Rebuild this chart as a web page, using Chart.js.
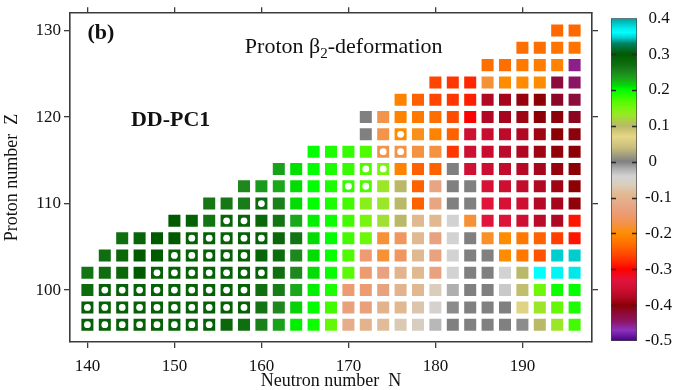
<!DOCTYPE html>
<html>
<head>
<meta charset="utf-8">
<script src="https://cdn.jsdelivr.net/npm/chart.js@4.4.1/dist/chart.umd.min.js"></script>
<style>
  html, body { margin: 0; padding: 0; background: #fff; }
  #wrap { position: relative; width: 673px; height: 390px; }
  #main { position: absolute; left: 0; top: 0; width: 673px; height: 390px; }
  #bar  { position: absolute; left: 600px; top: 0; width: 73px; height: 390px; }
</style>
</head>
<body>
<div id="wrap">
  <canvas id="main" width="673" height="390"></canvas>
  <canvas id="bar" width="73" height="390"></canvas>
</div>
<script>
// Proton quadrupole deformation beta2 of even-even nuclei, DD-PC1.
// One array per proton number Z, starting at the first neutron number of that row, step dN = 2.
const z130 = [-0.235, -0.235];
const z128 = [-0.23, -0.23, -0.225, -0.225];
const z126 = [-0.23, -0.23, -0.22, -0.215, -0.21, -0.455];
const z124 = [-0.26, -0.27, -0.28, -0.18, -0.2, -0.2, -0.2, -0.425, -0.445];
const z122 = [-0.21, -0.24, -0.26, -0.27, -0.285, -0.378, -0.385, -0.395, -0.4, -0.415, -0.425];
const z120 = [0.0, -0.17, -0.21, -0.22, -0.23, -0.255, -0.3, -0.378, -0.385, -0.39, -0.4, -0.402, -0.412];
const z118 = [0.0, -0.17, -0.2, -0.19, -0.21, -0.24, -0.355, -0.36, -0.37, -0.38, -0.39, -0.4, -0.402];
const z116 = [0.2, 0.19, 0.18, 0.17, -0.17, -0.17, -0.175, -0.175, -0.27, -0.355, -0.36, -0.37, -0.38, -0.39, -0.397, -0.4];
const z114 = [0.235, 0.21, 0.2, 0.19, 0.18, 0.17, 0.15, -0.21, -0.24, -0.24, 0.0, -0.352, -0.356, -0.365, -0.375, -0.385, -0.395, -0.4];
const z112 = [0.25, 0.24, 0.232, 0.212, 0.2, 0.19, 0.18, 0.17, 0.13, 0.1, -0.24, -0.125, 0.0, 0.0, -0.345, -0.355, -0.365, -0.378, -0.39, -0.4];
const z110 = [0.262, 0.262, 0.258, 0.275, 0.255, 0.212, 0.2, 0.19, 0.175, 0.14, 0.13, 0.1, -0.24, -0.125, 0.0, 0.0, -0.33, -0.345, -0.355, -0.375, -0.385, -0.397];
const z108 = [0.3, 0.29, 0.265, 0.285, 0.285, 0.28, 0.265, 0.232, 0.205, 0.195, 0.175, 0.15, 0.125, 0.1, -0.09, -0.09, -0.04, -0.18, -0.33, -0.335, -0.355, -0.37, -0.38, -0.29];
const z106 = [0.27, 0.285, 0.3, 0.3, 0.29, 0.29, 0.29, 0.29, 0.29, 0.28, 0.265, 0.212, 0.2, 0.175, 0.155, -0.18, -0.16, -0.09, -0.13, -0.04, 0.0, -0.185, -0.2, -0.22, -0.24, -0.265, -0.29];
const z104 = [0.27, 0.28, 0.3, 0.3, 0.29, 0.29, 0.29, 0.29, 0.29, 0.285, 0.275, 0.25, 0.212, 0.198, 0.17, -0.145, -0.18, -0.16, -0.09, -0.13, -0.04, 0.0, 0.0, -0.2, -0.22, -0.25, 0.345, 0.345];
const z102 = [0.265, 0.27, 0.28, 0.3, 0.29, 0.29, 0.29, 0.29, 0.29, 0.29, 0.29, 0.27, 0.25, 0.212, 0.198, 0.165, -0.145, -0.13, -0.1, -0.09, -0.13, -0.04, 0.0, 0.0, -0.04, 0.1, 0.36, 0.357, 0.353];
const z100 = [0.275, 0.29, 0.29, 0.29, 0.29, 0.29, 0.29, 0.29, 0.29, 0.29, 0.27, 0.26, 0.232, 0.205, 0.19, -0.145, -0.145, -0.13, -0.1, -0.09, -0.065, -0.02, 0.0, 0.0, -0.035, 0.095, 0.155, 0.195, 0.2];
const z98  = [0.29, 0.29, 0.29, 0.29, 0.29, 0.29, 0.29, 0.29, 0.29, 0.29, 0.265, 0.25, 0.215, 0.2, 0.175, -0.135, -0.135, -0.1, -0.09, -0.075, -0.045, -0.005, 0.0, 0.0, 0.0, 0.065, 0.13, 0.16, 0.19];
const z96  = [0.29, 0.29, 0.29, 0.29, 0.29, 0.29, 0.29, 0.29, 0.28, 0.27, 0.255, 0.235, 0.205, 0.195, 0.16, -0.11, -0.1, -0.085, -0.07, -0.06, -0.025, 0.0, 0.0, 0.0, 0.0, -0.005, 0.1, 0.13, 0.175];

const protonNumbers = [130, 128, 126, 124, 122, 120, 118, 116, 114, 112, 110, 108, 106, 104, 102, 100, 98, 96];
const firstNeutron  = [194, 190, 186, 180, 176, 172, 172, 166, 162, 158, 154, 150, 144, 142, 140, 140, 140, 140];
const beta2Rows     = [z130, z128, z126, z124, z122, z120, z118, z116, z114, z112, z110, z108, z106, z104, z102, z100, z98, z96];

// Nuclei flagged with a white dot: [Z, first N, last N]
const markedRanges = [
  [96, 140, 154], [98, 140, 158], [100, 142, 158], [102, 148, 160],
  [104, 150, 158], [106, 152, 160], [108, 156, 158], [110, 160, 160],
  [112, 170, 172], [114, 172, 174], [116, 174, 176], [118, 176, 176]
];

const xTicks = [140, 150, 160, 170, 180, 190];
const yTicks = [100, 110, 120, 130];
const barTicks = [-0.5, -0.4, -0.3, -0.2, -0.1, 0, 0.1, 0.2, 0.3, 0.4];

// Colour scale for beta2
const cmapValues = [-0.5, -0.47, -0.445, -0.42, -0.4, -0.38, -0.355, -0.33, -0.3, -0.285, -0.26, -0.23, -0.2, -0.18, -0.16, -0.13, -0.09, -0.065, -0.04, -0.02, 0.0, 0.04, 0.07, 0.1, 0.13, 0.15, 0.17, 0.2, 0.21, 0.23, 0.25, 0.27, 0.3, 0.33, 0.345, 0.36, 0.37, 0.4];
const cmapColors = [
  [70,0,130], [140,50,190], [140,20,100], [140,10,50], [140,0,5], [175,8,35], [205,15,50], [225,20,60],
  [255,0,0], [255,30,0], [255,70,0], [255,110,0], [255,140,0], [245,145,55], [240,150,95], [232,162,128],
  [225,185,145], [218,205,188], [210,210,210], [175,175,175], [128,128,128], [200,190,125], [230,215,135],
  [185,185,105], [155,230,40], [120,245,15], [80,250,0], [0,255,0], [0,225,0], [25,170,25], [30,135,30],
  [15,110,15], [0,90,0], [0,130,100], [0,205,205], [0,255,255], [0,240,240], [0,160,160]
];

function colorFor(v) {
  const n = cmapValues.length;
  if (v <= cmapValues[0]) return rgb(cmapColors[0]);
  if (v >= cmapValues[n - 1]) return rgb(cmapColors[n - 1]);
  for (let i = 0; i < n - 1; i++) {
    const a = cmapValues[i], b = cmapValues[i + 1];
    if (v >= a && v <= b) {
      const t = (v - a) / (b - a);
      const c0 = cmapColors[i], c1 = cmapColors[i + 1];
      return rgb([0, 1, 2].map(k => Math.round(c0[k] + (c1[k] - c0[k]) * t)));
    }
  }
  return rgb(cmapColors[n - 1]);
}
function rgb(c) { return 'rgb(' + c[0] + ',' + c[1] + ',' + c[2] + ')'; }

const cells = [];
beta2Rows.forEach((row, i) => {
  row.forEach((b, j) => cells.push({ x: firstNeutron[i] + 2 * j, y: protonNumbers[i], b: b }));
});
const marked = [];
markedRanges.forEach(([z, n0, n1]) => {
  for (let n = n0; n <= n1; n += 2) marked.push({ x: n, y: z });
});

const SERIF = "'Liberation Serif', 'Times New Roman', Times, serif";
const INK = '#111';
const FRAME = '#3c3c3c';

Chart.defaults.font.family = SERIF;
Chart.defaults.color = INK;

// Text annotations placed in data coordinates
const labelsPlugin = {
  id: 'panelLabels',
  afterDatasetsDraw(chart) {
    const { ctx, scales: { x, y } } = chart;
    ctx.save();
    ctx.fillStyle = INK;
    ctx.textBaseline = 'alphabetic';
    ctx.textAlign = 'left';

    ctx.font = 'bold 22px ' + SERIF;
    ctx.fillText('(b)', x.getPixelForValue(140), y.getPixelForValue(129));
    ctx.fillText('DD-PC1', x.getPixelForValue(145), y.getPixelForValue(119));

    let px = x.getPixelForValue(158.1);
    const py = y.getPixelForValue(127.4);
    ctx.font = '22px ' + SERIF;
    ctx.fillText('Proton \u03b2', px, py);
    px += ctx.measureText('Proton \u03b2').width;
    ctx.font = '15px ' + SERIF;
    ctx.fillText('2', px, py + 5);
    px += ctx.measureText('2').width;
    ctx.font = '22px ' + SERIF;
    ctx.fillText('-deformation', px, py);
    ctx.restore();
  }
};

const gridStyle = { drawOnChartArea: false, tickLength: 6, color: FRAME, lineWidth: 1.3 };
const borderStyle = { display: true, color: FRAME, width: 1.6 };
const tickFont = { size: 17, family: SERIF };

new Chart(document.getElementById('main'), {
  type: 'scatter',
  data: {
    datasets: [
      {
        // white dots, drawn above the squares
        order: 0,
        data: marked,
        pointStyle: 'circle',
        pointRadius: 3.4,
        pointHoverRadius: 3.4,
        pointBorderWidth: 0,
        pointBackgroundColor: '#ffffff'
      },
      {
        order: 1,
        data: cells,
        pointStyle: 'rect',
        pointRadius: 8.5,
        pointHoverRadius: 8.5,
        pointBorderWidth: 0,
        pointBackgroundColor: cells.map(c => colorFor(c.b))
      }
    ]
  },
  options: {
    responsive: false,
    animation: false,
    events: [],
    layout: { padding: 0 },
    plugins: { legend: { display: false }, tooltip: { enabled: false } },
    scales: {
      x: {
        type: 'linear', position: 'bottom', min: 138, max: 198,
        afterBuildTicks: s => { s.ticks = xTicks.map(v => ({ value: v })); },
        afterFit: s => { s.height = 48; },
        ticks: { font: tickFont, color: INK, padding: 8, maxRotation: 0 },
        grid: gridStyle, border: borderStyle,
        title: { display: true, text: 'Neutron number  N', font: { size: 18, family: SERIF, lineHeight: 1 }, color: INK, padding: { top: 0, bottom: 0 } }
      },
      xTop: {
        type: 'linear', position: 'top', min: 138, max: 198,
        afterBuildTicks: s => { s.ticks = xTicks.map(v => ({ value: v })); },
        afterFit: s => { s.height = 10; },
        ticks: { display: false },
        grid: gridStyle, border: borderStyle
      },
      y: {
        type: 'linear', position: 'left', min: 94, max: 132,
        afterBuildTicks: s => { s.ticks = yTicks.map(v => ({ value: v })); },
        afterFit: s => { s.width = 70; },
        ticks: { font: tickFont, color: INK, padding: 3 },
        grid: gridStyle, border: borderStyle,
        title: { display: true, text: 'Proton number  Z', font: { size: 18, family: SERIF, lineHeight: 1 }, color: INK, padding: { top: 3, bottom: 0 } }
      },
      yRight: {
        type: 'linear', position: 'right', min: 94, max: 132,
        afterBuildTicks: s => { s.ticks = yTicks.map(v => ({ value: v })); },
        afterFit: s => { s.width = 81; },
        ticks: { display: false },
        grid: gridStyle, border: borderStyle
      }
    }
  },
  plugins: [labelsPlugin]
});

// Colour bar: a single floating bar spanning the scale, filled with the colour map
const barTickMarks = {
  id: 'barTickMarks',
  afterDatasetsDraw(chart) {
    const { ctx, chartArea: a, scales: { y } } = chart;
    ctx.save();
    ctx.strokeStyle = '#2a2a2a';
    ctx.lineWidth = 1.5;
    barTicks.slice(1, -1).forEach(v => {
      const py = Math.round(y.getPixelForValue(v)) + 0.5;
      ctx.beginPath();
      ctx.moveTo(a.left, py); ctx.lineTo(a.left + 5, py);
      ctx.moveTo(a.right - 5, py); ctx.lineTo(a.right, py);
      ctx.stroke();
    });
    ctx.restore();
  }
};

new Chart(document.getElementById('bar'), {
  type: 'bar',
  data: {
    labels: [''],
    datasets: [{
      data: [[-0.5, 0.4]],
      barPercentage: 1,
      categoryPercentage: 1,
      borderWidth: 1,
      borderColor: '#444',
      borderSkipped: false,
      backgroundColor: (c) => {
        const chart = c.chart;
        if (!chart.chartArea) return '#888';
        const y = chart.scales.y;
        const y0 = y.getPixelForValue(-0.5), y1 = y.getPixelForValue(0.4);
        const g = chart.ctx.createLinearGradient(0, y0, 0, y1);
        cmapValues.forEach((v, i) => g.addColorStop((v + 0.5) / 0.9, rgb(cmapColors[i])));
        return g;
      }
    }]
  },
  options: {
    responsive: false,
    animation: false,
    events: [],
    layout: { padding: { left: 11, top: 10, bottom: 49, right: 0 } },
    plugins: { legend: { display: false }, tooltip: { enabled: false } },
    scales: {
      x: { display: false },
      y: {
        position: 'right', min: -0.5, max: 0.4,
        afterBuildTicks: s => { s.ticks = barTicks.map(v => ({ value: v })); },
        afterFit: s => { s.width = 36; },
        grid: { display: false, drawTicks: false },
        border: { display: false },
        ticks: {
          font: tickFont, color: INK, padding: 8,
          callback: v => { const r = Math.round(v * 10) / 10; return r < 0 ? String(r) : '\u2009' + r; }
        }
      }
    }
  },
  plugins: [barTickMarks]
});
</script>
</body>
</html>
